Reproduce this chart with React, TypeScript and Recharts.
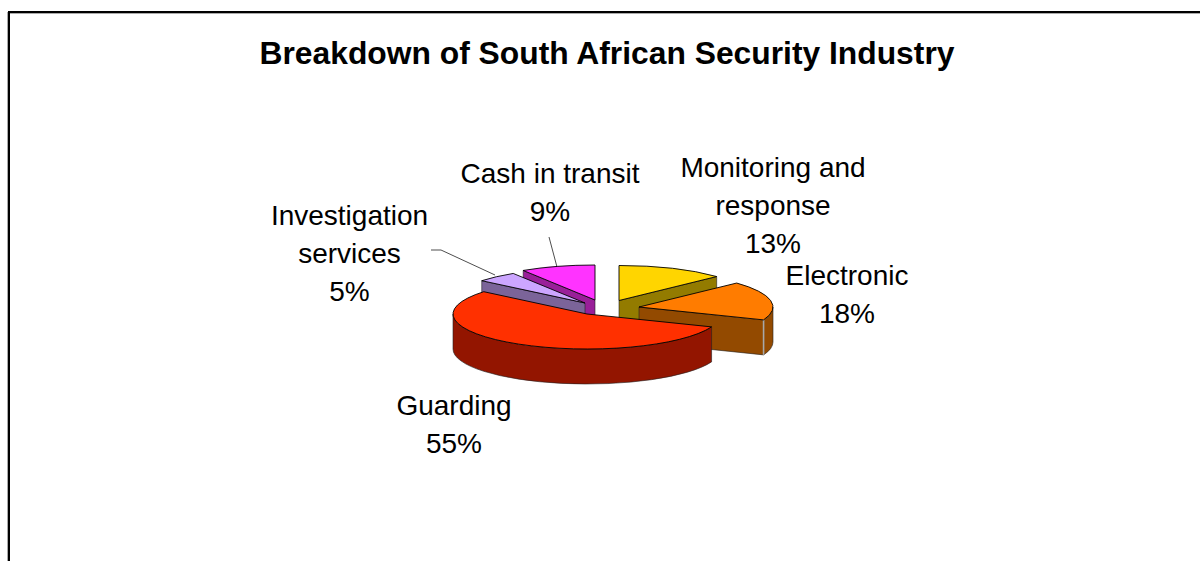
import { PieChart, Pie } from "recharts";

const categories = ["Monitoring and response", "Electronic", "Guarding", "Investigation services", "Cash in transit"];
const shares = [13, 18, 55, 5, 9];

const data = categories.map((name, i) => ({ name, value: shares[i] }));

// Walls paint from Cash in transit onwards, so Investigation's wall falls in front of it
const wallData = [data[4], ...data.slice(0, 4)];
const wallStartAngle = 90 + (shares[4] / 100) * 360;

const RX = 134;
const RY = 35;
const DEPTH = 35;
const CX = 600;
const CY = 300;

const faceColors: Record<string, string> = {
  "Investigation services": "#CCA6FF",
  "Cash in transit": "#FF33FF",
  "Monitoring and response": "#FFD500",
  Electronic: "#FF7C00",
  Guarding: "#FF3000",
};
const wallColors: Record<string, string> = {
  "Investigation services": "#7B6499",
  "Cash in transit": "#991F99",
  "Monitoring and response": "#937B00",
  Electronic: "#934A00",
  Guarding: "#931500",
};
// Exploded slice centres, relative to the pie centre
const explode: Record<string, [number, number]> = {
  "Investigation services": [-15, 3],
  "Cash in transit": [-5, 0],
  "Monitoring and response": [19, 0.5],
  Electronic: [39, 7],
  Guarding: [-13, 14],
};

const labels: Record<string, { x: number; y: number; lines: string[]; leader?: string }> = {
  "Investigation services": {
    x: 349.5,
    y: 224.5,
    lines: ["Investigation", "services"],
    leader: "M431 250 L441 250 L495 275",
  },
  "Cash in transit": { x: 550, y: 183, lines: ["Cash in transit"], leader: "M549 237 L557 267" },
  "Monitoring and response": { x: 773, y: 177, lines: ["Monitoring and", "response"] },
  Electronic: { x: 847, y: 285, lines: ["Electronic"] },
  Guarding: { x: 454, y: 415, lines: ["Guarding"] },
};

const FONT = "'Liberation Sans', Arial, sans-serif";
const rad = (a: number) => (a * Math.PI) / 180;

// Maps a pie angle onto the squashed ellipse of an exploded slice
function sliceGeometry(props: any) {
  const { cx, cy, outerRadius, name } = props;
  const [dx, dy] = explode[name];
  const ox = cx + dx;
  const oy = cy + dy;
  const rx = outerRadius;
  const ry = (outerRadius * RY) / RX;
  const pt = (a: number) => [ox + rx * Math.cos(rad(a)), oy - ry * Math.sin(rad(a))];
  return { ox, oy, rx, ry, pt };
}

// Side walls: painted in their own pass so every top face lands over them
function SliceWalls(props: any) {
  const { startAngle, endAngle, name } = props;
  const { ox, oy, rx, ry, pt } = sliceGeometry(props);
  const [sx, sy] = pt(startAngle);
  const [ex, ey] = pt(endAngle);
  const fill = wallColors[name];
  const edge = { stroke: "#222", strokeWidth: 0.6, strokeLinejoin: "round" as const };
  const walls = [];

  if (Math.cos(rad(startAngle)) < -1e-6) {
    walls.push(<path key="s" d={`M${ox} ${oy} L${sx} ${sy} v${DEPTH} L${ox} ${oy + DEPTH} Z`} fill={fill} {...edge} />);
  }
  if (Math.cos(rad(endAngle)) > 1e-6) {
    walls.push(<path key="e" d={`M${ox} ${oy} L${ex} ${ey} v${DEPTH} L${ox} ${oy + DEPTH} Z`} fill={fill} {...edge} />);
  }

  // Rim only shows on the front half of the ellipse (angles between 0 and -180)
  const rimFrom = Math.min(startAngle, 0);
  const rimTo = Math.max(endAngle, -180);
  if (rimFrom > rimTo) {
    const [ax, ay] = pt(rimFrom);
    const [bx, by] = pt(rimTo);
    walls.push(
      <path
        key="r"
        d={`M${ax} ${ay} A${rx} ${ry} 0 0 1 ${bx} ${by} v${DEPTH} A${rx} ${ry} 0 0 0 ${ax} ${ay + DEPTH} Z`}
        fill={fill}
        {...edge}
      />,
    );
  }

  return (
    <g>
      {walls}
      {name === "Electronic" && <path d={`M${ex} ${ey} v${DEPTH}`} stroke="#A8A8A8" strokeWidth={1.6} fill="none" />}
    </g>
  );
}

function SliceTop(props: any) {
  const { startAngle, endAngle, name } = props;
  const { ox, oy, rx, ry, pt } = sliceGeometry(props);
  const [sx, sy] = pt(startAngle);
  const [ex, ey] = pt(endAngle);
  const large = Math.abs(startAngle - endAngle) > 180 ? 1 : 0;
  return (
    <path
      d={`M${ox} ${oy} L${sx} ${sy} A${rx} ${ry} 0 ${large} 1 ${ex} ${ey} Z`}
      fill={faceColors[name]}
      stroke="#000"
      strokeWidth={0.9}
      strokeLinejoin="round"
    />
  );
}

function SliceLabel(props: any) {
  const { name, value } = props;
  const l = labels[name];
  return (
    <g>
      {l.leader && <path d={l.leader} fill="none" stroke="#000" strokeWidth={0.7} />}
      <text x={l.x} y={l.y} textAnchor="middle" fontFamily={FONT} fontSize={28} fill="#000">
        {[...l.lines, `${value}%`].map((line, i) => (
          <tspan key={i} x={l.x} dy={i === 0 ? 0 : 38}>
            {line}
          </tspan>
        ))}
      </text>
    </g>
  );
}

const rule = (style: React.CSSProperties) => <div style={{ position: "absolute", ...style }} />;

export default function App() {
  return (
    <div style={{ position: "absolute", left: 0, top: 0, width: 1200, height: 561, overflow: "hidden", background: "#fff" }}>
      {rule({ left: 8, top: 11, width: 1192, height: 2, background: "#000" })}
      {rule({ left: 10, top: 13, width: 1190, height: 1, background: "#AAA" })}
      {rule({ left: 8, top: 11, width: 2, height: 550, background: "#000" })}
      {rule({ left: 7, top: 12, width: 1, height: 549, background: "#AAA" })}
      <PieChart
        width={1200}
        height={561}
        margin={{ top: 0, right: 0, bottom: 0, left: 0 }}
        style={{ position: "absolute", left: 0, top: 0 }}
      >
        <text x={607} y={64} textAnchor="middle" fontFamily={FONT} fontSize={31.8} fontWeight="bold" fill="#000">
          Breakdown of South African Security Industry
        </text>
        <Pie
          data={wallData}
          dataKey="value"
          nameKey="name"
          cx={CX}
          cy={CY}
          outerRadius={RX}
          startAngle={wallStartAngle}
          endAngle={wallStartAngle - 360}
          stroke="none"
          shape={SliceWalls}
          isAnimationActive={false}
        />
        <Pie
          data={data}
          dataKey="value"
          nameKey="name"
          cx={CX}
          cy={CY}
          outerRadius={RX}
          startAngle={90}
          endAngle={-270}
          stroke="none"
          shape={SliceTop}
          label={SliceLabel}
          labelLine={false}
          isAnimationActive={false}
        />
      </PieChart>
    </div>
  );
}
